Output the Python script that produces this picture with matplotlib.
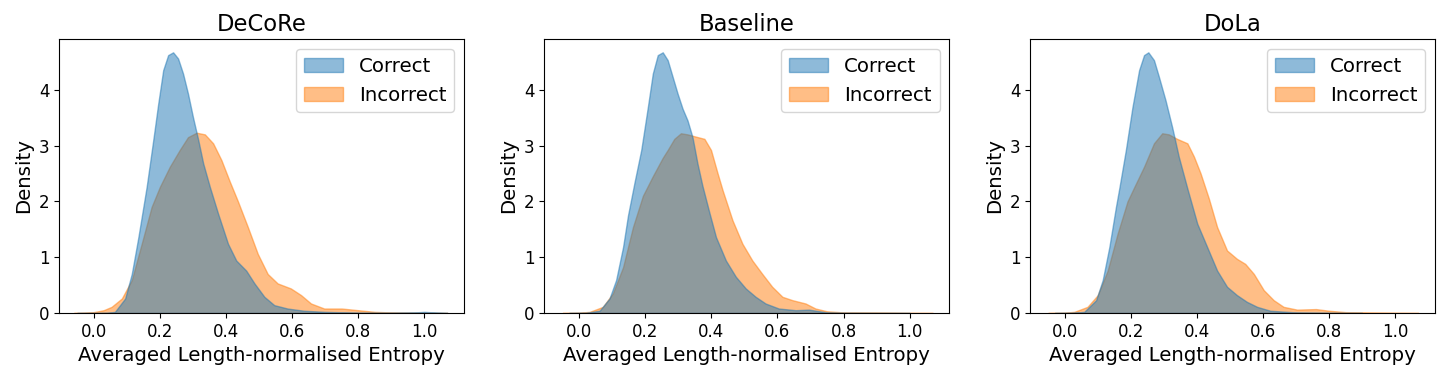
import matplotlib
matplotlib.use("Agg")
import matplotlib.pyplot as plt
from matplotlib.patches import Patch

titles = ["DeCoRe", "Baseline", "DoLa"]
series_labels = ["Correct", "Incorrect"]
xticks = [0.0, 0.2, 0.4, 0.6, 0.8, 1.0]
yticks = [0, 1, 2, 3, 4]

# --- DeCoRe ---
decore_correct_x = [-0.05, 0.0, 0.04, 0.064, 0.095, 0.115, 0.135, 0.150, 0.160, 0.170, 0.180, 0.195, 0.210,
                    0.225, 0.240, 0.255, 0.270, 0.285, 0.300, 0.316, 0.331, 0.351, 0.376, 0.406, 0.431,
                    0.461, 0.486, 0.516, 0.546, 0.586, 0.636, 0.70, 0.80, 0.90, 0.97, 1.0, 1.03, 1.07]
decore_correct_d = [0, 0, 0.003, 0.02, 0.26, 0.70, 1.36, 1.90, 2.26, 2.68, 3.10, 3.75, 4.35,
                    4.62, 4.67, 4.56, 4.29, 3.93, 3.51, 3.10, 2.68, 2.26, 1.78, 1.24, 0.94,
                    0.76, 0.53, 0.29, 0.14, 0.08, 0.04, 0.02, 0.005, 0.004, 0.01, 0.02, 0.01, 0]
decore_incorrect_x = [-0.06, -0.03, 0.0, 0.03, 0.054, 0.085, 0.115, 0.145, 0.175, 0.200, 0.230, 0.260, 0.285,
                      0.311, 0.336, 0.361, 0.386, 0.411, 0.436, 0.466, 0.496, 0.526, 0.556, 0.596, 0.627,
                      0.657, 0.697, 0.75, 0.80, 0.85, 0.90, 1.0, 1.07]
decore_incorrect_d = [0, 0.005, 0.015, 0.05, 0.11, 0.26, 0.59, 1.24, 1.90, 2.26, 2.62, 2.92, 3.15,
                      3.23, 3.20, 3.04, 2.74, 2.36, 2.00, 1.54, 1.06, 0.70, 0.53, 0.44, 0.32,
                      0.17, 0.08, 0.08, 0.05, 0.02, 0.01, 0.003, 0]

# --- Baseline ---
baseline_correct_x = [-0.03, 0.02, 0.062, 0.092, 0.112, 0.133, 0.148, 0.158, 0.168, 0.188, 0.208, 0.223, 0.238,
                      0.253, 0.268, 0.283, 0.298, 0.313, 0.328, 0.343, 0.358, 0.373, 0.394, 0.414, 0.444,
                      0.474, 0.504, 0.534, 0.564, 0.604, 0.655, 0.695, 0.75, 0.80, 0.9, 1.0]
baseline_correct_d = [0, 0.003, 0.04, 0.26, 0.59, 1.18, 1.75, 2.05, 2.35, 2.92, 3.69, 4.29, 4.62,
                      4.67, 4.53, 4.23, 3.93, 3.66, 3.45, 3.15, 2.68, 2.28, 1.80, 1.36, 0.94,
                      0.65, 0.44, 0.29, 0.17, 0.08, 0.05, 0.06, 0.01, 0.003, 0.0, 0.0]
baseline_incorrect_x = [-0.05, 0.0, 0.032, 0.072, 0.102, 0.133, 0.163, 0.193, 0.223, 0.253, 0.268, 0.288,
                        0.308, 0.328, 0.353, 0.379, 0.399, 0.419, 0.434, 0.464, 0.494, 0.524, 0.554, 0.584,
                        0.615, 0.645, 0.685, 0.715, 0.75, 0.80, 0.90, 1.0, 1.07]
baseline_incorrect_d = [0, 0.005, 0.02, 0.11, 0.35, 0.82, 1.54, 2.10, 2.45, 2.78, 2.92, 3.12,
                        3.22, 3.20, 3.16, 3.12, 2.92, 2.50, 2.20, 1.66, 1.24, 0.94, 0.70, 0.47,
                        0.29, 0.23, 0.17, 0.08, 0.03, 0.01, 0.008, 0.002, 0]

# --- DoLa ---
dola_correct_x = [-0.03, 0.02, 0.059, 0.095, 0.115, 0.135, 0.155, 0.165, 0.185, 0.205, 0.225, 0.240, 0.253,
                  0.270, 0.285, 0.305, 0.325, 0.345, 0.371, 0.401, 0.431, 0.461, 0.491, 0.521, 0.551,
                  0.582, 0.622, 0.70, 0.80, 0.9]
dola_correct_d = [0, 0.003, 0.02, 0.23, 0.59, 1.18, 1.90, 2.23, 2.92, 3.69, 4.35, 4.62, 4.67,
                  4.53, 4.23, 3.81, 3.33, 2.80, 2.23, 1.60, 1.18, 0.76, 0.47, 0.32, 0.20,
                  0.11, 0.04, 0.01, 0.003, 0.0]
dola_incorrect_x = [-0.05, 0.0, 0.029, 0.069, 0.100, 0.130, 0.160, 0.190, 0.210, 0.240, 0.270, 0.295, 0.315,
                    0.340, 0.371, 0.391, 0.411, 0.436, 0.461, 0.491, 0.521, 0.546, 0.572, 0.602, 0.632,
                    0.662, 0.703, 0.76, 0.80, 0.85, 0.90, 1.0, 1.07]
dola_incorrect_d = [0, 0.005, 0.02, 0.11, 0.32, 0.76, 1.42, 2.00, 2.25, 2.62, 3.04, 3.22, 3.20,
                    3.12, 3.04, 2.80, 2.50, 2.05, 1.54, 1.12, 0.97, 0.88, 0.70, 0.41, 0.23,
                    0.11, 0.06, 0.07, 0.04, 0.015, 0.01, 0.003, 0]

panels = [
    [(decore_correct_x, decore_correct_d), (decore_incorrect_x, decore_incorrect_d)],
    [(baseline_correct_x, baseline_correct_d), (baseline_incorrect_x, baseline_incorrect_d)],
    [(dola_correct_x, dola_correct_d), (dola_incorrect_x, dola_incorrect_d)],
]
colors = ["#1f77b4", "#ff7f0e"]

fig = plt.figure(figsize=(14.47, 3.78), dpi=100)
lefts = [0.0408, 0.3762, 0.7118]
for left, title, data in zip(lefts, titles, panels):
    ax = fig.add_axes([left, 0.172, 0.2799, 0.725])
    # draw Incorrect first so Correct overlays it (grey overlap)
    for (xs, ds), c in reversed(list(zip(data, colors))):
        ax.fill_between(xs, ds, 0, facecolor=c, edgecolor=c, alpha=0.5, linewidth=1.0,
                        joinstyle="round")
    ax.set_xlim(-0.105, 1.12)
    ax.set_ylim(0, 4.91)
    ax.set_xticks(xticks)
    ax.set_yticks(yticks)
    ax.tick_params(labelsize=12)
    ax.set_title(title, fontsize=16.3)
    ax.set_xlabel("Averaged Length-normalised Entropy", fontsize=14.2)
    ax.set_ylabel("Density", fontsize=14.2)
    handles = [Patch(facecolor=c, edgecolor=c, alpha=0.5, linewidth=1.0) for c in colors]
    ax.legend(handles, series_labels, loc="upper right", fontsize=14.2)

fig.savefig("out.png", dpi=100)
